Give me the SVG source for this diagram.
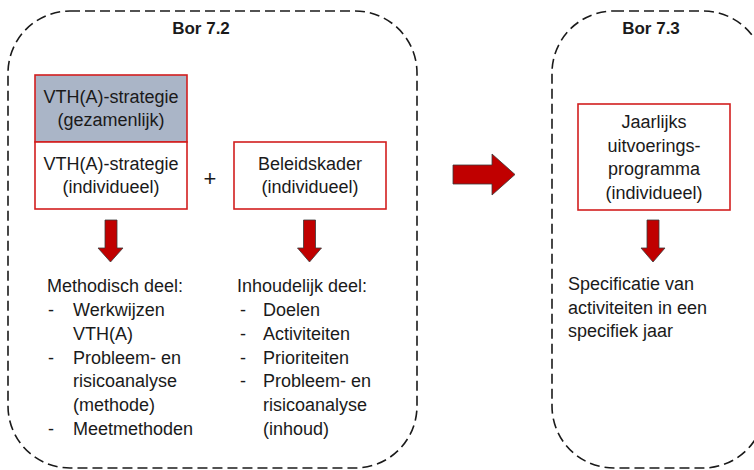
<svg xmlns="http://www.w3.org/2000/svg" width="754" height="470" viewBox="0 0 754 470">
<style>
.frame{fill:none;stroke:#1a1a1a;stroke-width:1.6;stroke-dasharray:10 5}
.box{fill:#ffffff;stroke:#d21f1f;stroke-width:1.6}
.gray{fill:#aab5c7;stroke:#d21f1f;stroke-width:1.6}
.arrow{fill:#c00000;stroke:#3a3a3a;stroke-width:0.8}
text{font-family:"Liberation Sans",Arial,sans-serif;font-size:18px;fill:#1a1a1a}
.title{font-weight:bold;font-size:17px;text-anchor:middle}
.c{text-anchor:middle}
.plus{font-size:22px;text-anchor:middle}
</style>
<rect width="754" height="470" fill="#ffffff"/>
<g id="bor72">
<rect class="frame" x="8" y="11" width="409" height="457" rx="62" ry="62"/>
<text class="title" x="201" y="34">Bor 7.2</text>
</g>
<g id="bor73">
<rect class="frame" x="552" y="11" width="213" height="457" rx="62" ry="62"/>
<text class="title" x="651" y="34">Bor 7.3</text>
</g>
<g id="strategie-gezamenlijk">
<rect class="gray" x="35" y="75" width="152" height="67"/>
<text class="c" x="111" y="103">VTH(A)-strategie</text>
<text class="c" x="111" y="126">(gezamenlijk)</text>
</g>
<g id="strategie-individueel">
<rect class="box" x="35" y="142" width="152" height="67"/>
<text class="c" x="111" y="170">VTH(A)-strategie</text>
<text class="c" x="111" y="193">(individueel)</text>
</g>
<g id="plus">
<text class="plus" x="210" y="186">+</text>
</g>
<g id="beleidskader">
<rect class="box" x="234" y="142" width="152" height="67"/>
<text class="c" x="310" y="170">Beleidskader</text>
<text class="c" x="310" y="193">(individueel)</text>
</g>
<g id="uitvoeringsprogramma">
<rect class="box" x="578" y="104" width="152" height="106"/>
<text class="c" x="654" y="128">Jaarlijks</text>
<text class="c" x="654" y="151.5">uitvoerings-</text>
<text class="c" x="654" y="175">programma</text>
<text class="c" x="654" y="198.5">(individueel)</text>
</g>
<g id="methodisch">
<text x="47" y="292">Methodisch deel:</text>
<text x="48" y="316">-</text><text x="73" y="316">Werkwijzen</text>
<text x="73" y="340">VTH(A)</text>
<text x="48" y="363.5">-</text><text x="73" y="363.5">Probleem- en</text>
<text x="73" y="387">risicoanalyse</text>
<text x="73" y="411">(methode)</text>
<text x="48" y="435">-</text><text x="73" y="435">Meetmethoden</text>
</g>
<g id="inhoudelijk">
<text x="237" y="292">Inhoudelijk deel:</text>
<text x="240" y="316">-</text><text x="263" y="316">Doelen</text>
<text x="240" y="340">-</text><text x="263" y="340">Activiteiten</text>
<text x="240" y="363.5">-</text><text x="263" y="363.5">Prioriteiten</text>
<text x="240" y="387">-</text><text x="263" y="387">Probleem- en</text>
<text x="263" y="411">risicoanalyse</text>
<text x="263" y="435">(inhoud)</text>
</g>
<g id="specificatie">
<text x="568" y="290">Specificatie van</text>
<text x="568" y="313.5">activiteiten in een</text>
<text x="568" y="337">specifiek jaar</text>
</g>
<g id="connectors">
<path class="arrow" d="M105,220 H117 V248 H123 L110.5,262 L98,248 H105 Z"/>
<path class="arrow" d="M303.5,220 H315.5 V248 H321.5 L309.5,262 L297.5,248 H303.5 Z"/>
<path class="arrow" d="M647,220 H659 V248 H665 L653,262 L641,248 H647 Z"/>
<path class="arrow" d="M453,165 H492 V154 L515,174.5 L492,195 V184 H453 Z"/>
</g>
</svg>
